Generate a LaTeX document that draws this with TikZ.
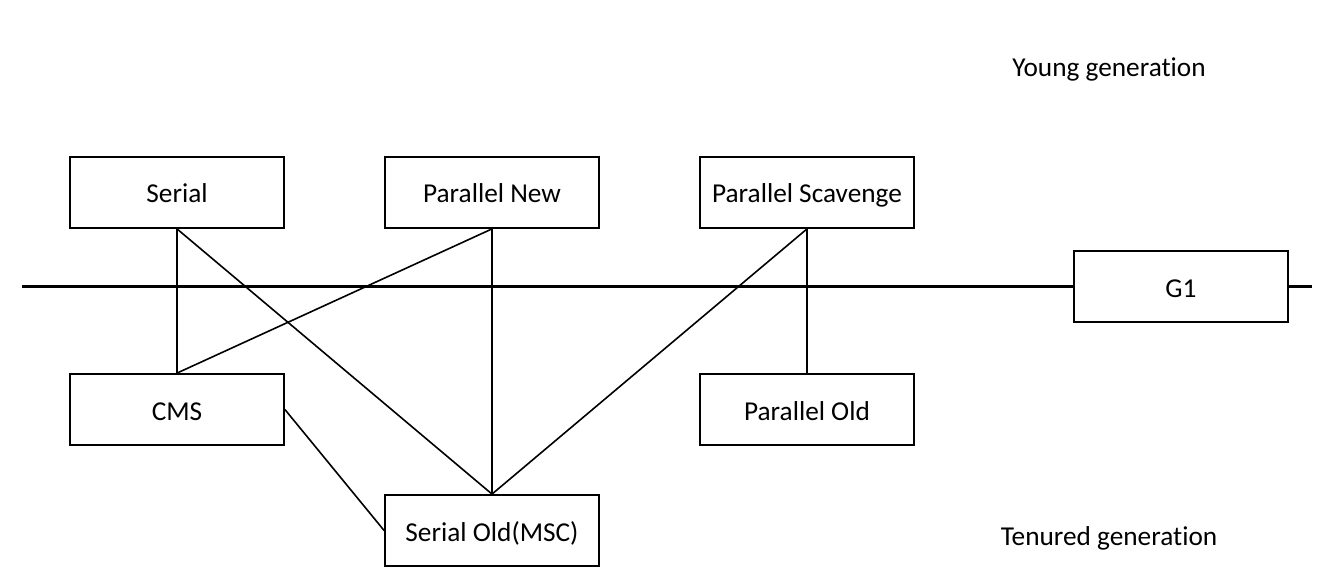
\documentclass[tikz,border=0pt]{standalone}
\usepackage{fontspec}
\setmainfont{Carlito}[Ligatures=NoCommon]
\begin{document}
\begin{tikzpicture}[x=1pt,y=-1pt,
  gcbox/.style={draw,line width=1.8pt,minimum width=214pt,minimum height=71pt,inner sep=0pt,text height=24pt,text depth=3pt,font=\fontsize{27.3}{30}\selectfont},
  conn/.style={line width=1.6pt},
  lbl/.style={font=\fontsize{27.3}{30}\selectfont,inner sep=0pt,text height=24pt,text depth=3pt}]
\useasboundingbox (0,0) rectangle (1330,580);
\node[gcbox] (serial) at (177,192.5) {Serial};
\node[gcbox] (pnew) at (492,192.5) {Parallel New};
\node[gcbox] (pscav) at (807,192.5) {Parallel Scavenge};
\node[gcbox] (g1) at (1181,286.5) {G1};
\node[gcbox] (cms) at (177,409.5) {CMS};
\node[gcbox] (pold) at (807,409.5) {Parallel Old};
\node[gcbox] (sold) at (492,530.5) {Serial Old(MSC)};
\node[lbl] (young) at (1109,66) {Young generation};
\node[lbl] (tenured) at (1109,535) {Tenured generation};
\coordinate (lineL) at (22,286.5);
\coordinate (lineR) at (1312,286.5);
\draw[line width=2.9pt] (lineL) -- (g1.west);
\draw[line width=2.9pt] (g1.east) -- (lineR);
\draw[conn] (serial.south) -- (cms.north);
\draw[conn] (serial.south) -- (sold.north);
\draw[conn] (pnew.south) -- (cms.north);
\draw[conn] (pnew.south) -- (sold.north);
\draw[conn] (pscav.south) -- (sold.north);
\draw[conn] (pscav.south) -- (pold.north);
\draw[conn] (cms.east) -- (sold.west);
\end{tikzpicture}
\end{document}
